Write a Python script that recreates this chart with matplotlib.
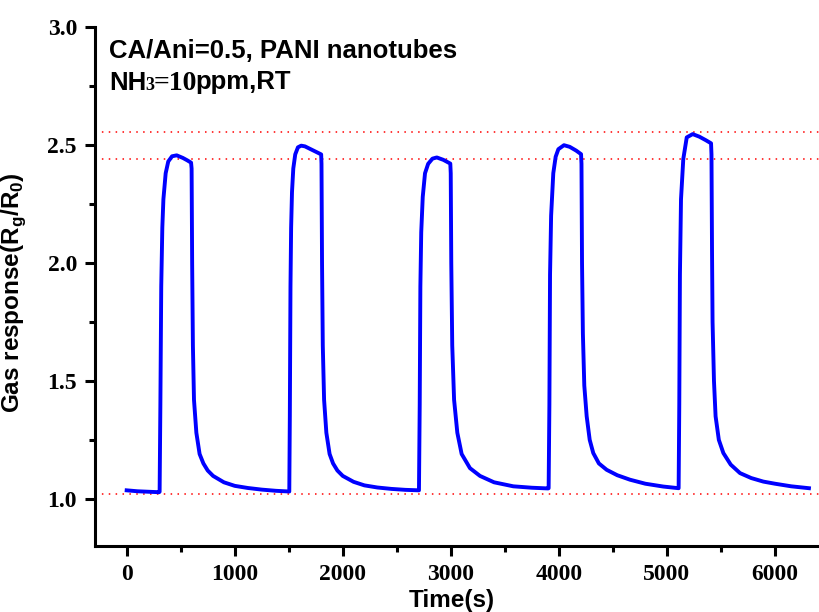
import matplotlib
matplotlib.use("Agg")
import matplotlib.pyplot as plt
from matplotlib.ticker import MultipleLocator, FormatStrFormatter
from matplotlib.transforms import IdentityTransform

# response, one list pair per gas on/off cycle
cycle1_t = [0, 100, 200, 300, 305, 312, 320, 330, 340, 361, 385, 420, 463, 520, 560, 596,
            601, 606, 613, 623, 645, 675, 710, 750, 800, 900, 1000, 1120, 1250, 1380, 1500]
cycle1_r = [1.036, 1.032, 1.030, 1.028, 1.030, 1.40, 1.90, 2.15, 2.27, 2.38, 2.43, 2.452, 2.456, 2.445, 2.435, 2.425,
            2.40, 2.00, 1.65, 1.42, 1.28, 1.19, 1.15, 1.12, 1.097, 1.070, 1.055, 1.046, 1.039, 1.034, 1.031]

cycle2_t = [1505, 1510, 1516, 1522, 1530, 1542, 1560, 1585, 1615, 1650, 1720, 1800,
            1803, 1808, 1815, 1827, 1848, 1878, 1910, 1950, 2000, 2100, 2200, 2320, 2450, 2580, 2700]
cycle2_r = [1.031, 1.35, 1.90, 2.15, 2.30, 2.40, 2.46, 2.49, 2.497, 2.494, 2.478, 2.460,
            2.42, 2.00, 1.65, 1.42, 1.28, 1.19, 1.15, 1.12, 1.097, 1.072, 1.057, 1.048, 1.042, 1.038, 1.036]

cycle3_t = [2705, 2712, 2718, 2726, 2740, 2761, 2790, 2830, 2870, 2930, 2995,
            2999, 3004, 3013, 3030, 3060, 3100, 3177, 3270, 3400, 3578, 3750, 3900]
cycle3_r = [1.036, 1.40, 1.90, 2.13, 2.28, 2.38, 2.42, 2.442, 2.447, 2.437, 2.421,
            2.38, 2.00, 1.65, 1.42, 1.28, 1.19, 1.13, 1.097, 1.070, 1.053, 1.047, 1.044]

cycle4_t = [3905, 3912, 3918, 3928, 3948, 3970, 3995, 4047, 4100, 4160, 4205,
            4209, 4214, 4222, 4235, 4257, 4285, 4318, 4370, 4442, 4540, 4658, 4800, 4966, 5100]
cycle4_r = [1.045, 1.40, 1.95, 2.20, 2.38, 2.45, 2.482, 2.499, 2.492, 2.476, 2.461,
            2.42, 2.00, 1.70, 1.48, 1.35, 1.25, 1.194, 1.15, 1.123, 1.10, 1.081, 1.064, 1.052, 1.045]

cycle5_t = [5108, 5114, 5120, 5130, 5151, 5183, 5238, 5300, 5360, 5408,
            5412, 5417, 5422, 5435, 5450, 5480, 5522, 5590, 5676, 5780, 5892, 6000, 6150, 6314]
cycle5_r = [1.045, 1.40, 1.95, 2.27, 2.44, 2.532, 2.546, 2.535, 2.52, 2.507,
            2.46, 2.05, 1.75, 1.50, 1.35, 1.25, 1.194, 1.145, 1.109, 1.088, 1.073, 1.064, 1.053, 1.045]

ref_levels = [2.555, 2.439, 1.020]

time_s = cycle1_t + cycle2_t + cycle3_t + cycle4_t + cycle5_t
response = cycle1_r + cycle2_r + cycle3_r + cycle4_r + cycle5_r

SANS = "Liberation Sans"
SERIF = "Liberation Serif"

fig = plt.figure(figsize=(8.19, 6.12), dpi=100)
ax = fig.add_axes([95 / 819, 66 / 612, 1 - 95 / 819, 519 / 612])

for lev in ref_levels:
    ax.axhline(lev, color="red", lw=1.1, dashes=(1, 3.5), zorder=1)

ax.plot(time_s, response, color="#0000ff", lw=2.8, solid_joinstyle="round", zorder=3)

ax.set_xlim(-293, 6407)
ax.set_ylim(0.8, 3.0)

ax.spines["top"].set_visible(False)
ax.spines["right"].set_visible(False)
for s in ("left", "bottom"):
    ax.spines[s].set_linewidth(2.2)

ax.xaxis.set_major_locator(MultipleLocator(1000))
ax.xaxis.set_minor_locator(MultipleLocator(500))
ax.yaxis.set_major_locator(MultipleLocator(0.5))
ax.yaxis.set_minor_locator(MultipleLocator(0.25))
ax.yaxis.set_major_formatter(FormatStrFormatter("%.1f"))
ax.set_yticks([1.0, 1.5, 2.0, 2.5, 3.0])
ax.tick_params(which="major", direction="out", length=7, width=2.2, pad=6)
ax.tick_params(which="minor", direction="out", length=4, width=2.2)
ax.tick_params(top=False, right=False, which="both")
for lab in ax.get_xticklabels() + ax.get_yticklabels():
    lab.set_fontfamily(SERIF)
    lab.set_fontweight("bold")
    lab.set_fontsize(17)

ax.set_xlabel("Time(s)", fontfamily=SANS, fontweight="bold", fontsize=17.5, labelpad=0)
ax.set_ylabel(r"Gas response(R$_\mathregular{g}$/R$_\mathregular{0}$)",
              fontfamily=SANS, fontweight="bold", fontsize=17.5, labelpad=2)
ax.xaxis.set_label_coords(0.493, -0.082)
ax.yaxis.set_label_coords(-0.092, 0.489)

# annotation lines, placed in figure pixels (origin bottom-left)
fig.text(109, 612 - 57.5, "CA/Ani=0.5, PANI nanotubes", transform=IdentityTransform(),
         fontfamily=SANS, fontweight="bold", fontsize=18.5, va="baseline")

pieces = [("NH", SANS, 18.5), ("3", SERIF, 13), ("=10", SERIF, 20), ("ppm,RT", SANS, 18.5)]
renderer = fig.canvas.get_renderer()
x = 109
for s, fam, size in pieces:
    t = fig.text(x, 612 - 89.5, s, transform=IdentityTransform(),
                 fontfamily=fam, fontweight="bold", fontsize=size, va="baseline")
    x = t.get_window_extent(renderer).x1 - 1

fig.savefig("out.png", dpi=100)
